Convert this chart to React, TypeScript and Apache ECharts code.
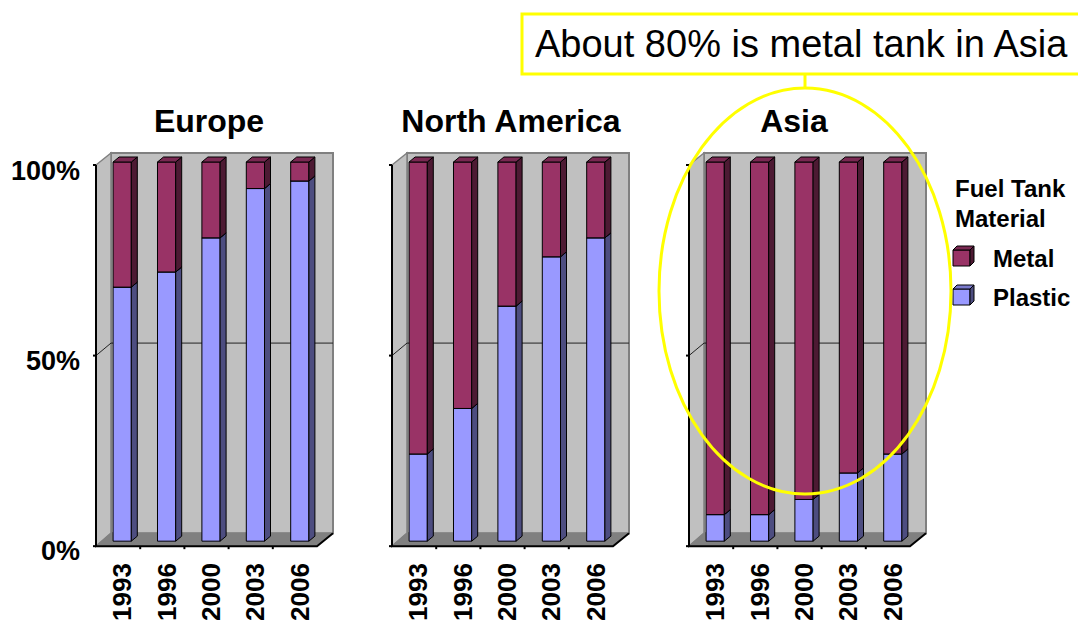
import React, { useEffect, useRef } from "react";
import * as echarts from "echarts";

const years = ["1993", "1996", "2000", "2003", "2006"];
const regions = ["Europe", "North America", "Asia"];
const europePlastic = [67, 71, 80, 93, 95];
const europeMetal = [33, 29, 20, 7, 5];
const northAmericaPlastic = [23, 35, 62, 75, 80];
const northAmericaMetal = [77, 65, 38, 25, 20];
const asiaPlastic = [7, 7, 11, 18, 23];
const asiaMetal = [93, 93, 89, 82, 77];
const yTicks = [0, 50, 100];
const legendTitle = ["Fuel Tank", "Material"];
const seriesNames = ["Metal", "Plastic"];
const annotation = "About 80% is metal tank in Asia";

const plasticByRegion = [europePlastic, northAmericaPlastic, asiaPlastic];
const metalByRegion = [europeMetal, northAmericaMetal, asiaMetal];

const FONT = "'Liberation Sans', Arial, Helvetica, sans-serif";
const COLORS = {
  Plastic: { front: "#9999FF", side: "#4D4D80", top: "#7A7ACC" },
  Metal: { front: "#993366", side: "#4D1A33", top: "#7A2952" },
};

const GRID_LEFT = [100, 396, 693];
const TITLE_CENTER = [209, 511, 794];
const GRID_TOP = 162;
const GRID_W = 222;
const GRID_H = 381;

function barRender(c: { front: string; side: string; top: string }) {
  return (params: any, api: any) => {
    const x = api.value(0);
    const lo = api.value(1);
    const hi = api.value(2);
    const pb = api.coord([x, lo]);
    const pt = api.coord([x, hi]);
    const bw = api.size([1, 0])[0] * 0.41;
    const xl = pb[0] - bw / 2;
    const xr = pb[0] + bw / 2;
    const dx = 6;
    const dy = -5;
    const st = { stroke: "#000", lineWidth: 1 };
    return {
      type: "group",
      children: [
        {
          type: "rect",
          shape: { x: xl, y: pt[1], width: bw, height: pb[1] - pt[1] },
          style: { fill: c.front, ...st },
        },
        {
          type: "polygon",
          shape: {
            points: [
              [xr, pb[1]],
              [xr + dx, pb[1] + dy],
              [xr + dx, pt[1] + dy],
              [xr, pt[1]],
            ],
          },
          style: { fill: c.side, ...st },
        },
        {
          type: "polygon",
          shape: {
            points: [
              [xl, pt[1]],
              [xr, pt[1]],
              [xr + dx, pt[1] + dy],
              [xl + dx, pt[1] + dy],
            ],
          },
          style: { fill: c.top, ...st },
        },
      ],
    };
  };
}

function wallRender(params: any, api: any) {
  const cs = params.coordSys;
  const L = cs.x;
  const R = cs.x + cs.width;
  const T = cs.y;
  const B = cs.y + cs.height;
  const fl = L - 4;
  const fr = R - 5;
  const fb = B + 5;
  const ft = T + 3;
  const bl = L + 11;
  const br = R + 11;
  const bb = B - 8;
  const bt = T - 9;
  const midF = (fb + ft) / 2;
  const midB = (bb + bt) / 2;
  const children: any[] = [
    {
      type: "rect",
      shape: { x: bl, y: bt, width: br - bl, height: bb - bt },
      style: { fill: "#C0C0C0", stroke: "#808080", lineWidth: 2 },
    },
    {
      type: "polygon",
      shape: { points: [[fl, ft], [bl, bt], [bl, bb], [fl, fb]] },
      style: { fill: "#C0C0C0", stroke: "#808080", lineWidth: 1.5 },
    },
    {
      type: "polygon",
      shape: { points: [[fl, fb], [fr, fb], [br, bb], [bl, bb]] },
      style: { fill: "#808080", stroke: "#808080", lineWidth: 1 },
    },
    {
      type: "polyline",
      shape: { points: [[fl, midF], [bl, midB], [br, midB]] },
      style: { stroke: "#222", lineWidth: 1, fill: null },
    },
    {
      type: "polyline",
      shape: { points: [[fl, ft], [fl, fb], [fr, fb], [br, bb]] },
      style: { stroke: "#000", lineWidth: 2, fill: null },
    },
  ];
  [ft, midF, fb].forEach((y) => {
    children.push({
      type: "line",
      shape: { x1: fl - 3, y1: y, x2: fl, y2: y },
      style: { stroke: "#000", lineWidth: 2 },
    });
  });
  for (let k = 1; k < 5; k++) {
    const x = fl + ((fr - fl) * k) / 5;
    children.push({
      type: "line",
      shape: { x1: x, y1: fb, x2: x, y2: fb + 3 },
      style: { stroke: "#000", lineWidth: 2 },
    });
  }
  return { type: "group", children };
}

function cube(x: number, y: number, c: { front: string; side: string; top: string }) {
  const w = 17;
  const h = 16;
  const d = 4;
  const st = { stroke: "#000", lineWidth: 1 };
  return [
    { type: "rect", shape: { x, y, width: w, height: h }, style: { fill: c.front, ...st }, z: 50 },
    {
      type: "polygon",
      shape: { points: [[x + w, y + h], [x + w + d, y + h - d], [x + w + d, y - d], [x + w, y]] },
      style: { fill: c.side, ...st },
      z: 50,
    },
    {
      type: "polygon",
      shape: { points: [[x, y], [x + w, y], [x + w + d, y - d], [x + d, y - d]] },
      style: { fill: c.top, ...st },
      z: 50,
    },
  ];
}

export default function App() {
  const ref = useRef<HTMLDivElement>(null);
  useEffect(() => {
    if (!ref.current) return;
    const chart = echarts.init(ref.current, null, { renderer: "svg" });
    const grids: any[] = GRID_LEFT.map((left) => ({
      left,
      top: GRID_TOP,
      width: GRID_W,
      height: GRID_H,
      containLabel: false,
    }));
    // label-only grid for the percentage axis, aligned with the front plane
    grids.push({ left: GRID_LEFT[0], top: 171, width: 10, height: 380, containLabel: false });

    const xAxes: any[] = GRID_LEFT.map((_, i) => ({
      type: "category",
      gridIndex: i,
      data: years,
      axisLine: { show: false },
      axisTick: { show: false },
      axisLabel: {
        rotate: 90,
        margin: 22,
        fontSize: 26,
        fontWeight: "bold",
        color: "#000",
        fontFamily: FONT,
      },
    }));
    xAxes.push({
      type: "category",
      gridIndex: 3,
      data: years,
      show: false,
    });
    const yAxes: any[] = GRID_LEFT.map((_, i) => ({
      type: "value",
      gridIndex: i,
      min: yTicks[0],
      max: yTicks[yTicks.length - 1],
      interval: yTicks[1] - yTicks[0],
      axisLine: { show: false },
      axisTick: { show: false },
      splitLine: { show: false },
      axisLabel: { show: false },
    }));
    yAxes.push({
      type: "value",
      gridIndex: 3,
      min: yTicks[0],
      max: yTicks[yTicks.length - 1],
      interval: yTicks[1] - yTicks[0],
      axisLine: { show: false },
      axisTick: { show: false },
      splitLine: { show: false },
      axisLabel: {
        formatter: "{value}%",
        margin: 20,
        fontSize: 27,
        fontWeight: "bold",
        color: "#000",
        fontFamily: FONT,
      },
    });
    const series: any[] = [];
    GRID_LEFT.forEach((_, i) => {
      series.push({
        type: "custom",
        name: "wall" + i,
        xAxisIndex: i,
        yAxisIndex: i,
        data: [[0, 0]],
        renderItem: wallRender,
        z: 1,
        silent: true,
      });
    });
    GRID_LEFT.forEach((_, i) => {
      const plastic = plasticByRegion[i];
      const metal = metalByRegion[i];
      series.push({
        type: "custom",
        name: "Plastic",
        xAxisIndex: i,
        yAxisIndex: i,
        encode: { x: 0, y: [1, 2] },
        data: plastic.map((v, k) => [k, 0, v]),
        renderItem: barRender(COLORS.Plastic),
        z: 2,
      });
      series.push({
        type: "custom",
        name: "Metal",
        xAxisIndex: i,
        yAxisIndex: i,
        encode: { x: 0, y: [1, 2] },
        data: metal.map((v, k) => [k, plastic[k], plastic[k] + v]),
        renderItem: barRender(COLORS.Metal),
        z: 3,
      });
    });

    const titles = regions.map((r, i) => ({
      text: r,
      left: TITLE_CENTER[i],
      textAlign: "center",
      top: 105,
      padding: 0,
      textStyle: { fontSize: 32, fontWeight: "bold", color: "#000", fontFamily: FONT },
    }));

    const graphic: any[] = [
      ...legendTitle.map((t, k) => ({
        type: "text",
        x: 955,
        y: 188 + k * 30,
        style: {
          text: t,
          fontSize: 24,
          fontWeight: "bold",
          fill: "#000",
          fontFamily: FONT,
          verticalAlign: "middle",
        },
        z: 50,
      })),
      ...seriesNames.flatMap((n, k) => [
        ...cube(953, 250 + k * 39, (COLORS as any)[n]),
        {
          type: "text",
          x: 993,
          y: 258 + k * 39,
          style: {
            text: n,
            fontSize: 24,
            fontWeight: "bold",
            fill: "#000",
            fontFamily: FONT,
            verticalAlign: "middle",
          },
          z: 50,
        },
      ]),
      {
        type: "rect",
        shape: { x: 522, y: 14, width: 620, height: 60 },
        style: { fill: "#fff", stroke: "#FFFF00", lineWidth: 3 },
        z: 60,
      },
      {
        type: "text",
        x: 535,
        y: 44,
        style: {
          text: annotation,
          fontSize: 38,
          fill: "#000",
          fontFamily: FONT,
          verticalAlign: "middle",
        },
        z: 61,
      },
      {
        type: "line",
        shape: { x1: 805, y1: 74, x2: 805, y2: 88 },
        style: { stroke: "#FFFF00", lineWidth: 3 },
        z: 60,
      },
      {
        type: "ellipse",
        shape: { cx: 805, cy: 291, rx: 146, ry: 203 },
        style: { fill: null, stroke: "#FFFF00", lineWidth: 3 },
        z: 60,
      },
    ];

    chart.setOption({
      animation: false,
      backgroundColor: "#fff",
      title: titles,
      grid: grids,
      xAxis: xAxes,
      yAxis: yAxes,
      series,
      graphic,
    });
    return () => chart.dispose();
  }, []);
  return (
    <div
      ref={ref}
      style={{ position: "fixed", left: 0, top: 0, width: 1078, height: 624 }}
    />
  );
}
